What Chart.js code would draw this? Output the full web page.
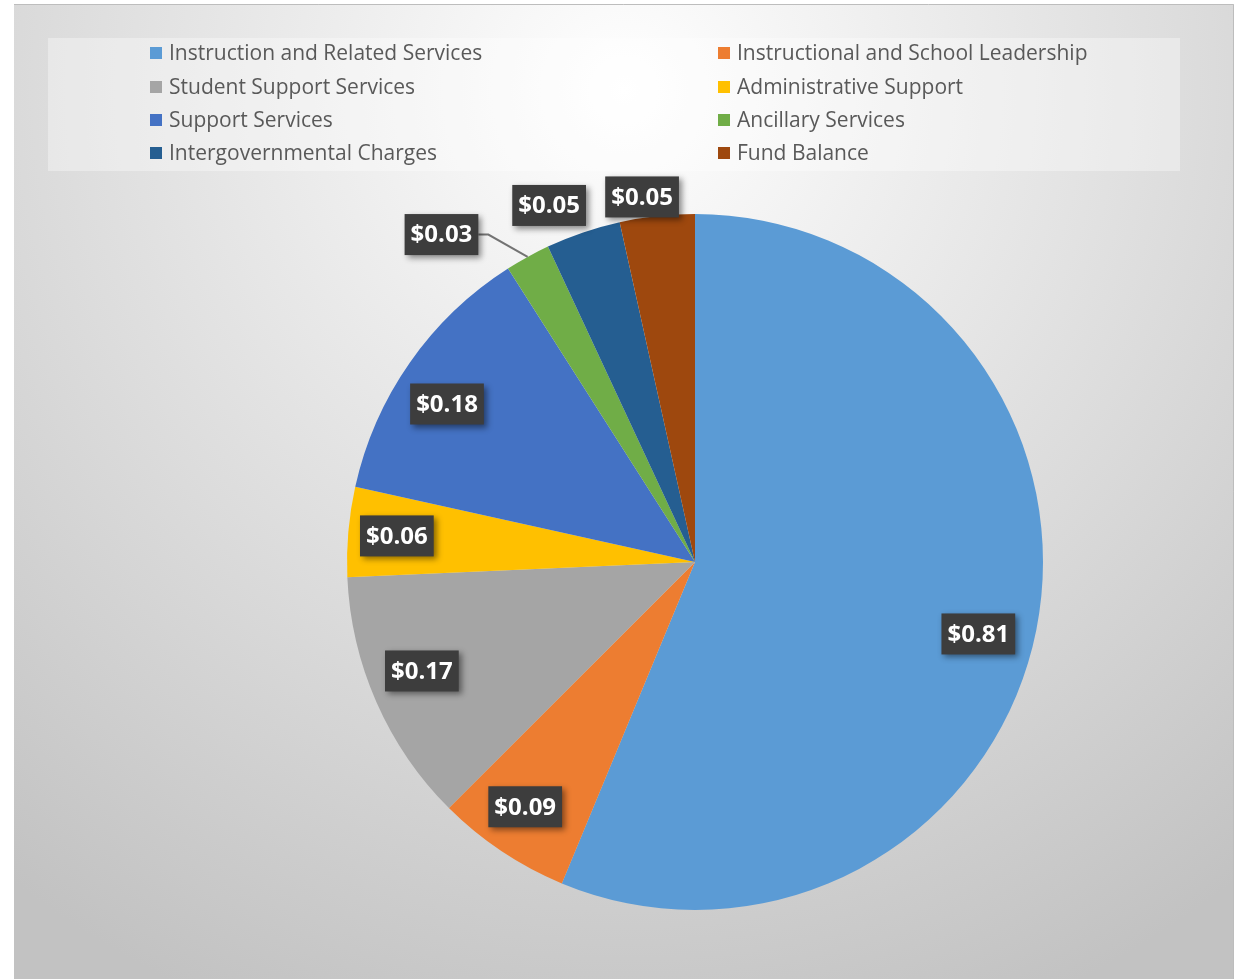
<!DOCTYPE html>
<html>
<head>
<meta charset="utf-8">
<style>
  html, body { margin: 0; padding: 0; background: #fff; }
  #wrap { width: 1248px; height: 979px; }
</style>
<script src="https://cdn.jsdelivr.net/npm/chart.js"></script>
</head>
<body>
<div id="wrap"><canvas id="spendPie" width="1248" height="979"></canvas></div>
<script>
// data
const categories = [
  'Instruction and Related Services',
  'Instructional and School Leadership',
  'Student Support Services',
  'Administrative Support',
  'Support Services',
  'Ancillary Services',
  'Intergovernmental Charges',
  'Fund Balance'
];
const amounts = [0.81, 0.09, 0.17, 0.06, 0.18, 0.03, 0.05, 0.05];
const sliceColors = ['#5b9bd5', '#ed7d31', '#a5a5a5', '#ffc000', '#4472c4', '#70ad47', '#255e91', '#9e480e'];

// label placement: [angle shift in degrees, radius factor, leader line]
const labelSpots = [
  [3, 0.84, false], [1, 0.856, false], [2, 0.845, false], [0, 0.86, false],
  [-2.5, 0.845, false], [-9, 1.19, true], [-3.5, 1.107, false], [-2, 1.06, false]
];

const backgroundPlugin = {
  id: 'panelBg',
  beforeDraw(chart) {
    const c = chart.ctx;
    c.save();
    c.fillStyle = '#ffffff';
    c.fillRect(0, 0, chart.width, chart.height);
    const g = c.createRadialGradient(624, 90, 0, 624, 90, 1000);
    g.addColorStop(0, '#ffffff');
    g.addColorStop(1, '#c2c2c2');
    c.fillStyle = g;
    c.fillRect(14, 4, 1220, 975);
    c.strokeStyle = '#bdbdbd';
    c.lineWidth = 1;
    c.beginPath();
    c.moveTo(14, 4.5); c.lineTo(1233.5, 4.5); c.lineTo(1233.5, 979);
    c.stroke();
    c.restore();
  }
};

const gridLegend = {
  id: 'gridLegend',
  afterDraw(chart) {
    const c = chart.ctx;
    c.save();
    c.fillStyle = 'rgba(255,255,255,0.35)';
    c.fillRect(48, 38, 1132, 133);
    c.font = '21px "Open Sans"';
    c.textBaseline = 'middle';
    const colX = [150, 718];
    const rowY = [53, 87, 120, 153];
    categories.forEach((name, i) => {
      const x = colX[i % 2];
      const y = rowY[Math.floor(i / 2)];
      c.fillStyle = sliceColors[i];
      c.fillRect(x, y - 6, 12, 12);
      c.fillStyle = '#595959';
      c.fillText(name, x + 19, y + 1);
    });
    c.restore();
  }
};

const boxLabels = {
  id: 'boxLabels',
  afterDatasetsDraw(chart) {
    const c = chart.ctx;
    const arcs = chart.getDatasetMeta(0).data;
    c.save();
    c.font = 'bold 24px "Open Sans"';
    c.textAlign = 'center';
    c.textBaseline = 'middle';
    arcs.forEach((arc, i) => {
      const spot = labelSpots[i];
      const mid = (arc.startAngle + arc.endAngle) / 2;
      const a = mid + spot[0] * Math.PI / 180;
      const r = arc.outerRadius;
      const x = arc.x + Math.cos(a) * r * spot[1];
      const y = arc.y + Math.sin(a) * r * spot[1];
      const text = '$' + amounts[i].toFixed(2);
      const w = c.measureText(text).width + 12;
      const h = 41;
      if (spot[2]) {
        c.strokeStyle = '#737373';
        c.lineWidth = 2;
        c.beginPath();
        c.moveTo(x + w / 2, y);
        c.lineTo(x + w / 2 + 10, y);
        c.lineTo(arc.x + Math.cos(mid) * r, arc.y + Math.sin(mid) * r);
        c.stroke();
      }
      c.save();
      c.shadowColor = 'rgba(0,0,0,0.45)';
      c.shadowBlur = 6;
      c.shadowOffsetX = 3;
      c.shadowOffsetY = 3;
      c.fillStyle = '#3d3d3d';
      c.fillRect(x - w / 2, y - h / 2, w, h);
      c.restore();
      c.fillStyle = '#ffffff';
      c.fillText(text, x, y + 1);
    });
    c.restore();
  }
};

new Chart(document.getElementById('spendPie').getContext('2d'), {
  type: 'pie',
  data: {
    labels: categories,
    datasets: [{
      data: amounts,
      backgroundColor: sliceColors,
      borderWidth: 0
    }]
  },
  options: {
    responsive: false,
    animation: false,
    layout: { padding: { left: 347, right: 205, top: 214, bottom: 69 } },
    plugins: {
      legend: { display: false },
      tooltip: { enabled: false }
    }
  },
  plugins: [backgroundPlugin, gridLegend, boxLabels]
});
</script>
</body>
</html>
